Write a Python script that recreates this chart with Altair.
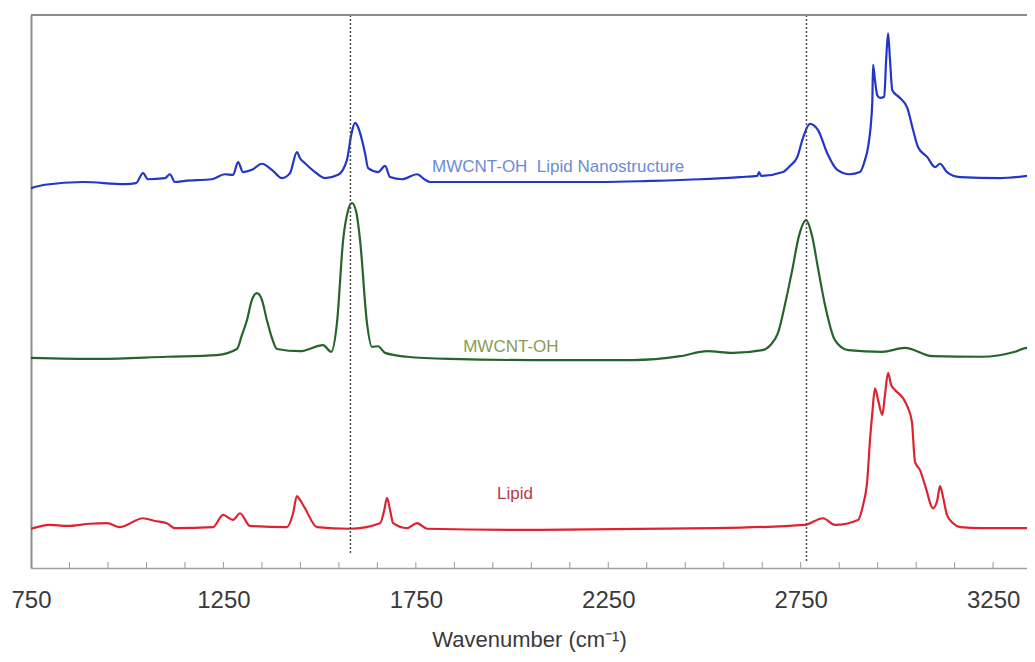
import altair as alt
import pandas as pd

# --- data -------------------------------------------------------------------
blue_w = [750, 786, 885, 994, 1023, 1041, 1054, 1098, 1111, 1124, 1150, 1220, 1254, 1275, 1288,
          1301, 1324, 1350, 1376, 1402, 1423, 1441, 1449, 1462, 1488, 1514, 1548, 1571, 1582, 1592,
          1600, 1610, 1618, 1626, 1652, 1670, 1683, 1714, 1753, 1774, 1787, 1969, 2229, 2359, 2489,
          2593, 2637, 2642, 2647, 2704, 2722, 2741, 2756, 2774, 2795, 2819, 2845, 2878, 2904, 2917,
          2925, 2936, 2938, 2943, 2949, 2956, 2967, 2972, 2977, 2982, 2988, 3008, 3027, 3042, 3055,
          3079, 3099, 3112, 3130, 3164, 3268, 3359]
blue_i = [68.7, 69.3, 69.8, 69.4, 69.6, 71.4, 70.3, 70.5, 71.2, 69.8, 70.0, 70.3, 71.2, 71.1, 73.4,
          71.6, 72.0, 73.1, 72.0, 70.5, 71.4, 75.2, 74.1, 73.2, 71.6, 70.5, 71.1, 73.8, 78.3, 80.5,
          79.7, 77.4, 75.0, 72.3, 71.6, 72.7, 70.7, 70.3, 71.2, 70.2, 69.8, 69.8, 69.8, 70.0, 70.3,
          70.7, 70.9, 71.6, 70.9, 71.6, 72.7, 74.3, 77.8, 80.3, 79.2, 75.0, 72.0, 71.2, 71.6, 73.8,
          76.1, 84.1, 91.0, 88.2, 85.5, 85.0, 85.2, 91.9, 96.7, 91.9, 86.4, 85.0, 83.2, 79.2, 76.1,
          74.3, 72.5, 73.1, 71.6, 70.7, 70.5, 71.1]

green_w = [750, 929, 1103, 1233, 1285, 1298, 1311, 1324, 1337, 1350, 1363, 1376, 1389, 1449, 1509,
           1530, 1545, 1561, 1574, 1584, 1595, 1605, 1623, 1636, 1652, 1670, 1727, 1839, 2055, 2314,
           2437, 2507, 2574, 2650, 2671, 2691, 2709, 2728, 2746, 2764, 2779, 2795, 2813, 2839, 2873,
           2962, 3021, 3092, 3221, 3307, 3338, 3359]
green_i = [38.0, 37.8, 38.2, 38.5, 39.6, 42.1, 44.8, 48.5, 49.7, 48.5, 44.8, 41.6, 39.6, 39.2, 40.3,
           39.1, 44.3, 59.3, 64.7, 66.0, 64.4, 59.3, 44.3, 40.0, 40.1, 38.9, 38.2, 37.8, 37.6, 37.6,
           38.3, 39.2, 38.9, 39.4, 40.3, 42.5, 47.6, 53.9, 60.2, 62.9, 60.2, 54.2, 47.6, 41.2, 39.4,
           39.1, 39.8, 38.3, 38.2, 39.1, 39.8, 39.1]

red_w = [750, 799, 844, 903, 948, 981, 1041, 1072, 1103, 1124, 1223, 1249, 1275, 1293, 1319,
         1415, 1431, 1441, 1449, 1462, 1493, 1579, 1657, 1668, 1675, 1683, 1691, 1727, 1753, 1779,
         2021, 2528, 2761, 2808, 2839, 2899, 2912, 2923, 2930, 2936, 2943, 2951, 2962, 2969, 2977,
         2985, 2995, 3016, 3029, 3039, 3047, 3060, 3073, 3094, 3105, 3112, 3120, 3130, 3146, 3164,
         3221, 3359]
red_i = [7.1, 7.8, 7.6, 8.0, 8.1, 7.4, 9.0, 8.5, 8.1, 7.2, 7.4, 9.6, 8.7, 9.9, 7.6,
         7.4, 9.9, 13.0, 12.3, 10.8, 7.4, 7.1, 8.1, 10.5, 12.7, 10.5, 8.1, 7.2, 8.1, 7.1,
         6.9, 7.2, 7.8, 9.0, 7.8, 8.7, 11.4, 15.9, 23.1, 28.0, 32.5, 30.4, 27.7, 31.3, 35.3,
         33.1, 32.2, 30.7, 28.9, 26.4, 19.2, 17.7, 15.0, 10.8, 12.3, 14.8, 12.8, 9.6, 8.1, 7.4,
         7.2, 7.2]

series_names = ["MWCNT-OH Lipid Nanostructure", "MWCNT-OH", "Lipid"]
series_colors = ["#2236c8", "#25652c", "#dc2330"]

label_texts = ["MWCNT-OH\u00a0 Lipid Nanostructure", "MWCNT-OH", "Lipid"]
label_w = [1792, 1873, 1961]
label_i = [72.5, 40.0, 13.4]
label_colors = ["#6b8bd6", "#8c9a55", "#b83a46"]

ref_w = [1580, 2765]
ref_top = [100, 100]
ref_bottom = [2.4, 0.9]

major_ticks = [750, 1250, 1750, 2250, 2750, 3250]
minor_ticks = [850, 950, 1050, 1150, 1250, 1350, 1450, 1550, 1650, 1750, 1850, 1950, 2050,
               2150, 2250, 2350, 2450, 2550, 2650, 2750, 2850, 2950, 3050, 3150, 3250]

# --- tables -----------------------------------------------------------------
rows = []
for name, ws, vs in zip(series_names, [blue_w, green_w, red_w], [blue_i, green_i, red_i]):
    for k, (w, v) in enumerate(zip(ws, vs)):
        rows.append({"series": name, "w": w, "I": v, "order": k})
lines_df = pd.DataFrame(rows)
labels_df = pd.DataFrame({"label": label_texts, "w": label_w, "I": label_i, "tc": label_colors})
ref_df = pd.DataFrame({"w": ref_w, "top": ref_top, "bottom": ref_bottom})
ticks_df = pd.DataFrame({"w": minor_ticks})

W, H = 996, 553
XMIN, XMAX = 750, 3338

xscale = alt.Scale(domain=[XMIN, XMAX], nice=False, zero=False)
yscale = alt.Scale(domain=[0, 100], nice=False, zero=False)

x_axis = alt.Axis(values=major_ticks, format="d", ticks=False, tickSize=0, grid=False,
                  labelFontSize=24, labelFont="Liberation Sans", labelColor="#3a3a3a",
                  labelPadding=20, labelFlush=False, labelOverlap=False,
                  domainColor="#a0a0a0", domainWidth=1.5,
                  title="Wavenumber (cm⁻¹)", titleFont="Liberation Sans", titleFontSize=22,
                  titleFontWeight="normal", titleColor="#3a3a3a", titlePadding=17)
y_axis = alt.Axis(labels=False, ticks=False, grid=False, title=None,
                  domainColor="#8c8c8c", domainWidth=2)

lines = alt.Chart(lines_df).mark_line(strokeWidth=2.2, interpolate="monotone", clip=True).encode(
    x=alt.X("w:Q", scale=xscale, axis=x_axis),
    y=alt.Y("I:Q", scale=yscale, axis=y_axis),
    color=alt.Color("series:N", scale=alt.Scale(domain=series_names, range=series_colors), legend=None),
    order="order:Q",
)

refs = alt.Chart(ref_df).mark_rule(strokeDash=[2, 2], color="#4a4a4a", strokeWidth=1.5).encode(
    x=alt.X("w:Q", scale=xscale),
    y=alt.Y("top:Q", scale=yscale),
    y2="bottom:Q",
)

ticks = alt.Chart(ticks_df).mark_rule(color="#9a9a9a", strokeWidth=1).encode(
    x=alt.X("w:Q", scale=xscale),
    y=alt.value(H),
    y2=alt.value(H - 6),
)

top_border = alt.Chart(ref_df).mark_rule(color="#8c8c8c", strokeWidth=2).encode(
    x=alt.value(0), x2=alt.value(W), y=alt.value(0)
)

labels = alt.Chart(labels_df).mark_text(align="left", baseline="middle", fontSize=17,
                                        font="Liberation Sans").encode(
    x=alt.X("w:Q", scale=xscale),
    y=alt.Y("I:Q", scale=yscale),
    text="label:N",
    color=alt.Color("tc:N", scale=None),
)

chart = alt.layer(ticks, lines, refs, labels, top_border).properties(
    width=W, height=H,
    autosize=alt.AutoSizeParams(type="none"),
    padding={"left": 23, "top": 7, "right": 0, "bottom": 86},
).configure_view(stroke=None)

chart.save("out.html", embed_options={"renderer": "svg", "actions": False})
